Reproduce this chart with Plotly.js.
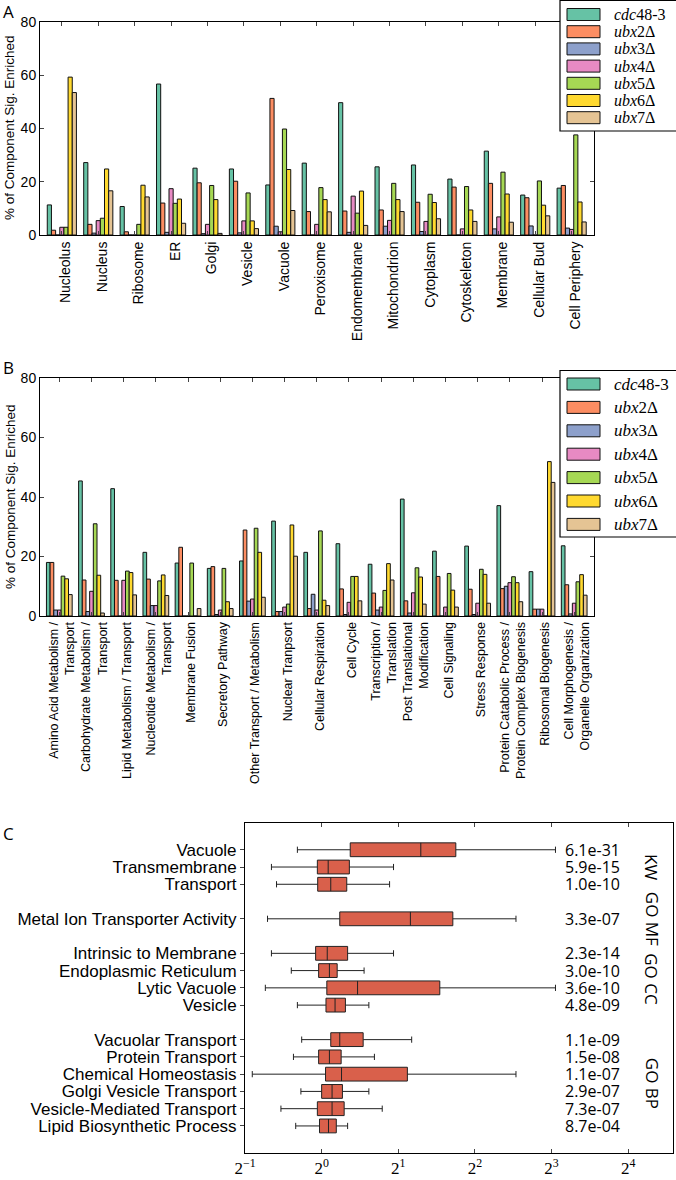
<!DOCTYPE html>
<html><head><meta charset="utf-8">
<script src="https://cdn.plot.ly/plotly-3.0.1.min.js"></script>
<style>html,body{margin:0;padding:0;background:#fff}#chart{width:676px;height:1180px}</style>
</head><body><div id="chart"></div>
<script>
// ---------- shared series ----------
const seriesNames = ['<i>cdc</i>48-3','<i>ubx</i>2Δ','<i>ubx</i>3Δ','<i>ubx</i>4Δ','<i>ubx</i>5Δ','<i>ubx</i>6Δ','<i>ubx</i>7Δ'];
const seriesColors = ['#66c2a5','#fc8d62','#8da0cb','#e78ac3','#a6d854','#ffd92f','#e5c494'];

// ---------- panel A: cellular components ----------
const compCategories = ['Nucleolus','Nucleus','Ribosome','ER','Golgi','Vesicle','Vacuole','Peroxisome','Endomembrane','Mitochondrion','Cytoplasm','Cytoskeleton','Membrane','Cellular Bud','Cell Periphery'];
const compCdc48 = [11.3, 27.2, 10.7, 56.7, 25.1, 24.8, 18.8, 27.0, 49.7, 25.6, 26.3, 21.0, 31.5, 15.0, 17.6];
const compUbx2  = [1.8, 4.0, 1.2, 12.0, 19.6, 20.2, 51.3, 8.8, 9.0, 9.4, 12.3, 18.0, 19.4, 14.0, 18.6];
const compUbx3  = [0, 0.7, 0, 1.0, 0.5, 0.8, 3.3, 0, 1.0, 3.3, 1.3, 0, 2.3, 3.4, 2.6];
const compUbx4  = [2.9, 5.4, 0, 17.4, 4.0, 5.3, 1.2, 4.0, 14.6, 5.5, 5.1, 2.3, 6.8, 0, 2.1];
const compUbx5  = [2.9, 6.3, 4.0, 11.9, 18.6, 15.8, 39.8, 17.8, 8.2, 19.4, 15.3, 18.2, 23.6, 20.3, 37.6];
const compUbx6  = [59.3, 24.8, 18.7, 13.5, 13.3, 5.3, 24.6, 13.3, 16.5, 13.3, 12.2, 9.4, 15.4, 11.2, 12.4];
const compUbx7  = [53.5, 16.6, 14.3, 4.4, 0.6, 2.4, 9.2, 8.7, 3.6, 8.8, 6.1, 5.1, 4.8, 7.2, 4.9];

// ---------- panel B: biological processes ----------
const procCategories = ['Amino Acid Metabolism /<br>Transport','Carbohydrate Metabolism /<br>Transport','Lipid Metabolism / Transport','Nucleotide Metabolism /<br>Transport','Membrane Fusion','Secretory Pathway','Other Transport / Metabolism','Nuclear Tranpsort','Cellular Respiration','Cell Cycle','Transcription /<br>Translation','Post Translational<br>Modification','Cell Signaling','Stress Response','Protein Catabolic Process /<br>Protein Complex Biogenesis','Ribosomal Biogenesis','Cell Morphogenesis /<br>Organelle Organization'];
const procCdc48 = [18.0, 45.4, 42.8, 21.4, 17.8, 16.0, 18.5, 31.9, 21.4, 24.3, 17.4, 39.3, 21.8, 23.5, 37.1, 14.9, 23.6];
const procUbx2  = [18.0, 12.1, 12.0, 12.4, 23.1, 16.6, 28.9, 1.5, 2.5, 9.1, 7.7, 5.1, 13.3, 9.0, 9.2, 2.3, 10.5];
const procUbx3  = [2.0, 1.5, 0, 3.5, 0, 0.5, 5.0, 1.5, 7.3, 0.5, 2.0, 1.0, 0, 0.5, 10.0, 2.3, 0.7];
const procUbx4  = [2.0, 8.3, 12.0, 3.5, 0, 2.0, 5.7, 3.0, 2.0, 4.6, 3.0, 7.8, 3.0, 4.3, 11.2, 2.3, 4.3];
const procUbx5  = [13.4, 31.0, 15.1, 11.8, 17.8, 16.0, 29.5, 4.0, 28.6, 13.3, 8.6, 16.2, 14.3, 15.7, 13.2, 0, 11.5];
const procUbx6  = [12.5, 13.7, 14.6, 13.8, 0, 4.8, 21.4, 30.6, 5.3, 13.3, 17.6, 13.1, 8.7, 14.0, 11.2, 51.9, 13.9];
const procUbx7  = [7.2, 1.0, 7.1, 6.9, 2.5, 2.5, 6.3, 20.1, 3.5, 5.1, 12.1, 4.0, 3.0, 4.3, 4.8, 44.9, 7.0];

// ---------- panel C: enrichment boxes ----------
const boxLabels = ['Vacuole','Transmembrane','Transport','Metal Ion Transporter Activity','Intrinsic to Membrane','Endoplasmic Reticulum','Lytic Vacuole','Vesicle','Vacuolar Transport','Protein Transport','Chemical Homeostasis','Golgi Vesicle Transport','Vesicle-Mediated Transport','Lipid Biosynthetic Process'];
const boxGroups = ['KW','KW','KW','GO MF','GO CC','GO CC','GO CC','GO CC','GO BP','GO BP','GO BP','GO BP','GO BP','GO BP'];
const boxLow  = [0.803, 0.635, 0.665, 0.613, 0.635, 0.760, 0.601, 0.803, 0.835, 0.775, 0.534, 0.829, 0.692, 0.791];
const boxQ1   = [1.295, 0.962, 0.965, 1.178, 0.947, 0.973, 1.048, 1.040, 1.086, 0.973, 1.036, 1.000, 0.962, 0.981];
const boxMed  = [2.452, 1.061, 1.086, 2.232, 1.052, 1.073, 1.384, 1.129, 1.178, 1.073, 1.197, 1.099, 1.099, 1.064];
const boxQ3   = [3.366, 1.285, 1.255, 3.276, 1.265, 1.151, 2.912, 1.240, 1.456, 1.193, 2.172, 1.207, 1.226, 1.142];
const boxHigh = [8.29, 1.916, 1.849, 5.80, 1.916, 1.468, 8.29, 1.533, 2.258, 1.612, 5.80, 1.533, 1.730, 1.265];
const boxPvals = ['6.1e-31','5.9e-15','1.0e-10','3.3e-07','2.3e-14','3.0e-10','3.6e-10','4.8e-09','1.1e-09','1.5e-08','1.1e-07','2.9e-07','7.3e-07','8.7e-04'];
const log2TickVals = [0.5, 1, 2, 4, 8, 16];
const log2TickText = ['2<sup>−1</sup>','2<sup>0</sup>','2<sup>1</sup>','2<sup>2</sup>','2<sup>3</sup>','2<sup>4</sup>'];

// ---------- page geometry helpers (pixels -> paper) ----------
const W = 676, H = 1180, ML = 40, MR = 3;
const PW = W - ML - MR;
const px = v => (v - ML) / PW;
const py = v => 1 - v / H;

// ---------- build traces ----------
const compSeries = [compCdc48, compUbx2, compUbx3, compUbx4, compUbx5, compUbx6, compUbx7];
const procSeries = [procCdc48, procUbx2, procUbx3, procUbx4, procUbx5, procUbx6, procUbx7];
const traces = [];
compSeries.forEach((vals, i) => traces.push({
  type:'bar', x: compCategories, y: vals, name: seriesNames[i], xaxis:'x', yaxis:'y', showlegend:false,
  marker:{color: seriesColors[i], line:{color:'#111', width:1}}
}));
procSeries.forEach((vals, i) => traces.push({
  type:'bar', x: procCategories, y: vals, name: seriesNames[i], xaxis:'x2', yaxis:'y2', showlegend:false,
  marker:{color: seriesColors[i], line:{color:'#111', width:1}}
}));

const cCats = []; let prevGroup = null; let gapN = 0;
boxLabels.forEach((lab, i) => {
  if (prevGroup !== null && boxGroups[i] !== prevGroup) { gapN++; cCats.push('_gap' + gapN); }
  cCats.push(lab); prevGroup = boxGroups[i];
});
traces.push({
  type:'box', orientation:'h', y: boxLabels, q1: boxQ1, median: boxMed, q3: boxQ3,
  lowerfence: boxLow, upperfence: boxHigh, xaxis:'x3', yaxis:'y3', showlegend:false,
  fillcolor:'#d9604b', line:{color:'#222', width:1}, width:0.8, whiskerwidth:0.45, boxpoints:false
});

// ---------- annotations & legend boxes ----------
const annotations = [];
const shapes = [];
const lettersFont = {family:'Open Sans, sans-serif', size:17, color:'#000'};
[['A', 12], ['B', 368], ['C', 833]].forEach(([t, y]) => annotations.push({
  text:t, xref:'paper', yref:'paper', x:px(8.5), y:py(y), xanchor:'center', yanchor:'middle', showarrow:false, font:lettersFont}));
const yTitle = '% of Component Sig. Enriched';
[128, 497].forEach(y => annotations.push({text:yTitle, xref:'paper', yref:'paper', x:px(10), y:py(y),
  xanchor:'center', yanchor:'middle', textangle:-90, showarrow:false, font:{size:13.5}}));
boxLabels.forEach((lab, i) => annotations.push({
  text: boxPvals[i], xref:'paper', yref:'y3', x:px(563), y: cCats.indexOf(lab), xanchor:'left', yanchor:'middle', showarrow:false,
  font:{family:'Open Sans, sans-serif', size:16, color:'#000'}
}));
[...new Set(boxGroups)].forEach(g => {
  const idx = boxLabels.filter((l, i) => boxGroups[i] === g).map(l => cCats.indexOf(l));
  const c = (Math.min(...idx) + Math.max(...idx)) / 2;
  annotations.push({text:g, xref:'paper', yref:'y3', x:px(652), y:c, xanchor:'center', yanchor:'middle',
    textangle:90, showarrow:false, font:{family:'Open Sans, sans-serif', size:17, color:'#000'}});
});

// legends drawn as boxes of swatches + labels (one per bar panel)
function addLegend(topPx, bottomPx, firstPx, stepPx, fontSize) {
  shapes.push({type:'rect', xref:'paper', yref:'paper', x0:px(560), x1:px(700), y0:py(bottomPx), y1:py(topPx + 0.5),
    fillcolor:'#fff', line:{color:'#000', width:1.2}, layer:'above'});
  seriesNames.forEach((nm, i) => {
    const cy = firstPx + i * stepPx;
    shapes.push({type:'rect', xref:'paper', yref:'paper', x0:px(567), x1:px(600), y0:py(cy + 6), y1:py(cy - 6),
      fillcolor: seriesColors[i], line:{color:'#111', width:1}, layer:'above'});
    annotations.push({text:nm, xref:'paper', yref:'paper', x:px(612), y:py(cy), xanchor:'left', yanchor:'middle',
      showarrow:false, font:{family:'Liberation Serif, serif', size:fontSize, color:'#000'}});
  });
}
addLegend(0, 131, 14.5, 17.2, 16);
addLegend(370, 537, 384, 23.4, 17);

const barX = {type:'category', tickangle:-90, ticks:'inside', ticklen:4, showline:true, linecolor:'#000', linewidth:1,
  mirror:'ticks', tickfont:{size:14}, showgrid:false, zeroline:false, fixedrange:true};
const barY = {range:[0,80], tickvals:[0,20,40,60,80], ticks:'inside', ticklen:4, showline:true, linecolor:'#000', linewidth:1,
  mirror:'ticks', tickfont:{size:14}, showgrid:false, zeroline:false, fixedrange:true};

const layout = {
  width:W, height:H, margin:{l:ML, r:MR, t:0, b:0},
  paper_bgcolor:'#fff', plot_bgcolor:'#fff',
  font:{family:'Liberation Sans, Arial, sans-serif', color:'#000', size:13},
  barmode:'group', bargap:0.2, bargroupgap:0, hovermode:false, showlegend:false,
  xaxis: Object.assign({}, barX, {domain:[0, px(593.5)], anchor:'y', range:[-0.6, 14.6], ticklabelshift:4}),
  yaxis: Object.assign({}, barY, {domain:[py(235), py(22)], anchor:'x'}),
  xaxis2: Object.assign({}, barX, {domain:[0, px(593.5)], anchor:'y2', range:[-0.6, 16.6], tickfont:{size:12.5}, ticklabelshift:3}),
  yaxis2: Object.assign({}, barY, {domain:[py(616), py(378)], anchor:'x2'}),
  xaxis3: {domain:[px(245), 1.0], anchor:'y3', type:'log', range:[Math.log10(0.5), Math.log10(24)],
    tickmode:'array', tickvals: log2TickVals, ticktext: log2TickText, ticks:'inside', ticklen:4,
    showline:true, linecolor:'#000', linewidth:1, mirror:'ticks', showgrid:false, zeroline:false,
    tickfont:{family:'Liberation Serif, serif', size:17}, fixedrange:true},
  yaxis3: {domain:[py(1152.7), py(823)], anchor:'x3', type:'category', categoryorder:'array', categoryarray:cCats,
    range:[cCats.length - 1 + 1.55, -1.55], tickmode:'array', tickvals: boxLabels, ticktext: boxLabels,
    ticks:'outside', ticklen:4, showline:true, linecolor:'#000', linewidth:1, mirror:true, showgrid:false,
    zeroline:false, tickfont:{size:17}, fixedrange:true},
  shapes: shapes,
  annotations: annotations
};
Plotly.newPlot('chart', traces, layout, {staticPlot:true, displayModeBar:false});
</script></body></html>
